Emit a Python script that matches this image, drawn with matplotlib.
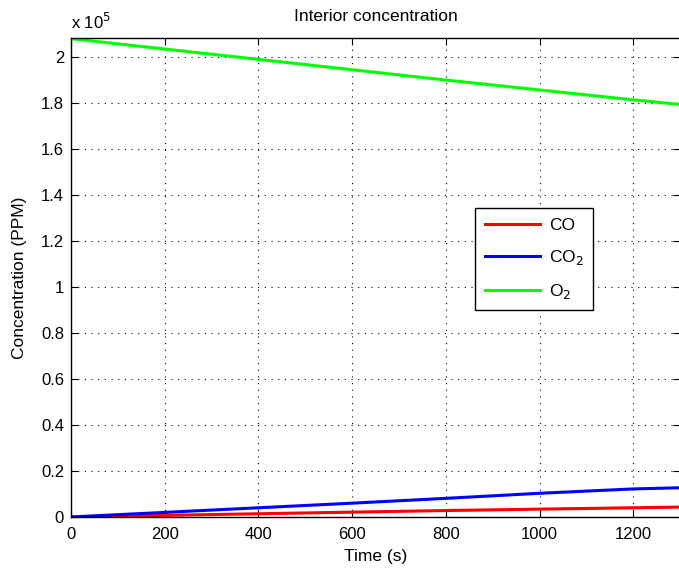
import numpy as np
import matplotlib.pyplot as plt
from matplotlib.ticker import FuncFormatter

# values (time in s, concentration in PPM)
time_s = [0, 200, 400, 600, 800, 1000, 1200, 1300]
o2_ppm = [208000, 203500, 199000, 194500, 190000, 185700, 181400, 179400]
co2_ppm = [0, 2000, 4000, 6000, 8100, 10300, 12200, 12700]
co_ppm = [0, 700, 1400, 2100, 2800, 3400, 4000, 4300]

y_ticks = [0, 0.2, 0.4, 0.6, 0.8, 1.0, 1.2, 1.4, 1.6, 1.8, 2.0]
x_ticks = [0, 200, 400, 600, 800, 1000, 1200]

plt.rcParams['font.family'] = ['Liberation Sans', 'DejaVu Sans']

fig = plt.figure(figsize=(6.79, 5.72), dpi=100)
ax = fig.add_axes([0.1046, 0.0962, 0.8970, 0.8378])

ax.plot(time_s, co_ppm, color='#ff0000', lw=2.2, label='CO')
ax.plot(time_s, co2_ppm, color='#0000ff', lw=2.2, label='CO$_2$')
ax.plot(time_s, o2_ppm, color='#00ff00', lw=2.2, label='O$_2$')

ax.set_xlim(0, 1300)
ax.set_ylim(0, 2.084e5)
ax.set_xticks(x_ticks)
ax.set_yticks([v * 1e5 for v in y_ticks])
ax.yaxis.set_major_formatter(FuncFormatter(lambda v, p: f"{v / 1e5:g}"))

ax.grid(True, color='black', linestyle=(0, (1, 5)), linewidth=0.8)
ax.tick_params(direction='in', top=True, right=True, labelsize=12, length=5)
ax.tick_params(axis='x', pad=7)
ax.tick_params(axis='y', pad=5)
for sp in ax.spines.values():
    sp.set_linewidth(1.0)

ax.set_title('Interior concentration', fontsize=12.5, pad=12)
ax.set_xlabel('Time (s)', fontsize=12.5, labelpad=5)
ax.set_ylabel('Concentration (PPM)', fontsize=12.5, labelpad=10)
ax.text(0.0, 1.012, 'x 10$^5$', transform=ax.transAxes, fontsize=12,
        ha='left', va='bottom')

leg = ax.legend(loc='upper left', bbox_to_anchor=(0.649, 0.662), fontsize=12.5,
                fancybox=False, edgecolor='black', framealpha=1,
                handlelength=3.2, handletextpad=0.5, borderpad=0.55,
                labelspacing=0.85)
leg.get_frame().set_linewidth(1.0)

fig.savefig('out.png', dpi=100)
